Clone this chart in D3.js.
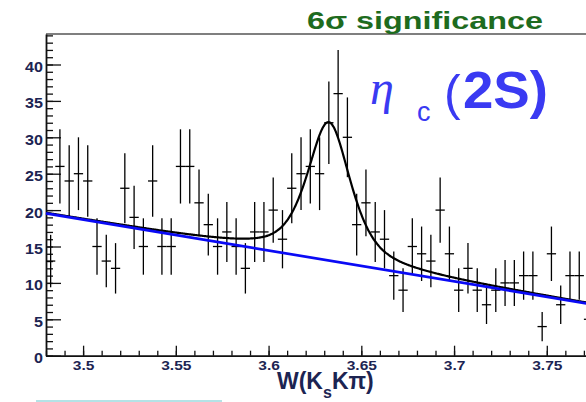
<!DOCTYPE html>
<html>
<head>
<meta charset="utf-8">
<script src="https://cdn.jsdelivr.net/npm/d3@7"></script>
<style>
  html, body { margin: 0; padding: 0; background: #fff; }
  svg { display: block; }
</style>
</head>
<body>
<svg id="chart" width="586" height="402"></svg>
<script>
// W(KsKπ) invariant-mass spectrum, 5 MeV bins (bin centres in GeV)
const massBins = [
  3.4825, 3.4875, 3.4925, 3.4975, 3.5025, 3.5075, 3.5125, 3.5175, 3.5225, 3.5275,
  3.5325, 3.5375, 3.5425, 3.5475, 3.5525, 3.5575, 3.5625, 3.5675, 3.5725, 3.5775,
  3.5825, 3.5875, 3.5925, 3.5975, 3.6025, 3.6075, 3.6125, 3.6175, 3.6225, 3.6275,
  3.6325, 3.6375, 3.6425, 3.6475, 3.6525, 3.6575, 3.6625, 3.6675, 3.6725, 3.6775,
  3.6825, 3.6875, 3.6925, 3.6975, 3.7025, 3.7075, 3.7125, 3.7175, 3.7225, 3.7275,
  3.7325, 3.7375, 3.7425, 3.7475, 3.7525, 3.7575, 3.7625, 3.7675, 3.7725
];
// events per bin
const counts = [
  13, 26, 24, 25, 24, 15, 13, 12, 23, 19,
  15, 24, 15, 15, 26, 26, 21, 18, 15, 17,
  15, 12, 17, 17, 20, 16, 23, 25, 26, 25,
  32, 36, 30, 18, 21, 17, 16, 11,  9, 15,
  14, 13, 20, 14,  9, 12,  9,  7,  9, 10,
  10, 11, 11,  4, 14,  7, 11, 11,  5
];
const binWidth = 0.005;

// fit: linear background (value at 3.48 and at 3.78 GeV) + Voigt-like peak
const bkgEnds = [19.54, 6.82];
const peakParams = [3.6325, 0.028, 19.0, 0.65];   // mass, FWHM, height, Lorentzian fraction

// axis ticks and labels
const xMajorTicks = [3.5, 3.55, 3.6, 3.65, 3.7, 3.75];
const xTickLabels = ["3.5", "3.55", "3.6", "3.65", "3.7", "3.75"];
const yMajorTicks = [0, 5, 10, 15, 20, 25, 30, 35, 40];
const yTickLabels = ["0", "5", "10", "15", "20", "25", "30", "35", "40"];

const svg = d3.select("#chart");
const plotLeft = 46, plotTop = 34, plotBottom = 355.7;

const x = d3.scaleLinear().domain([3.48, 3.78]).range([plotLeft, plotLeft + 0.3 * 1854.8]);
const y = d3.scaleLinear().domain([0, 44.19]).range([plotBottom, plotTop]);

const inkAxis = "#111";
const labelColor = "#1c2452";

// frame top edge
svg.append("line")
  .attr("x1", plotLeft).attr("x2", x.range()[1])
  .attr("y1", plotTop).attr("y2", plotTop)
  .attr("stroke", "#555").attr("stroke-width", 1.6);

// minor ticks (inside)
svg.append("g").attr("transform", `translate(0,${plotBottom})`)
  .call(d3.axisBottom(x).ticks(30).tickSize(-5).tickFormat("").tickSizeOuter(0))
  .call(g => g.select(".domain").remove())
  .call(g => g.selectAll("line").attr("stroke", inkAxis).attr("stroke-width", 1.3));
svg.append("g").attr("transform", `translate(${plotLeft},0)`)
  .call(d3.axisLeft(y).ticks(44).tickSize(-7).tickFormat("").tickSizeOuter(0))
  .call(g => g.select(".domain").remove())
  .call(g => g.selectAll("line").attr("stroke", inkAxis).attr("stroke-width", 1.3));

// major ticks with labels
const xAxis = svg.append("g").attr("transform", `translate(0,${plotBottom})`)
  .call(d3.axisBottom(x).tickValues(xMajorTicks).tickSize(-10).tickSizeOuter(0)
    .tickFormat((d, i) => xTickLabels[i]));
xAxis.select(".domain").attr("stroke", inkAxis).attr("stroke-width", 1.8);
xAxis.selectAll(".tick line").attr("stroke", inkAxis).attr("stroke-width", 1.3);
xAxis.selectAll(".tick text")
  .attr("y", 0).attr("dy", null)
  .attr("transform", "translate(0,14) scale(1.15,1)")
  .attr("fill", labelColor)
  .style("font", "bold 13.5px 'Liberation Sans', Arial, sans-serif");

const yAxis = svg.append("g").attr("transform", `translate(${plotLeft},0)`)
  .call(d3.axisLeft(y).tickValues(yMajorTicks).tickSize(-15).tickSizeOuter(0)
    .tickFormat((d, i) => yTickLabels[i]));
yAxis.select(".domain").attr("stroke", inkAxis).attr("stroke-width", 1.8);
yAxis.selectAll(".tick line").attr("stroke", inkAxis).attr("stroke-width", 1.3);
yAxis.selectAll(".tick text")
  .attr("x", 0).attr("dy", null).attr("y", 0)
  .attr("transform", "translate(-3,7) scale(1.15,1)")
  .attr("text-anchor", "end")
  .attr("fill", labelColor)
  .style("font", "bold 14px 'Liberation Sans', Arial, sans-serif");

// data points with error bars
const pts = svg.append("g").attr("stroke", "#000").attr("stroke-width", 1.3);
massBins.forEach((m, i) => {
  const n = counts[i], err = Math.sqrt(n);
  pts.append("line")
    .attr("x1", x(m)).attr("x2", x(m))
    .attr("y1", y(n - err)).attr("y2", y(n + err));
  pts.append("line")
    .attr("x1", x(m - binWidth / 2)).attr("x2", x(m + binWidth / 2))
    .attr("y1", y(n)).attr("y2", y(n));
});

// fit curves
const bkg = m => bkgEnds[0] + (bkgEnds[1] - bkgEnds[0]) * (m - 3.48) / 0.3;
const peakShape = m => {
  const [m0, fwhm, h, fracL] = peakParams;
  const d = (m - m0) / (fwhm / 2);
  const lor = 1 / (1 + d * d);
  const gau = Math.exp(-Math.LN2 * d * d);
  return h * (fracL * lor + (1 - fracL) * gau);
};
const grid = d3.range(3.48, 3.7801, 0.0005);

svg.append("path")
  .datum(grid)
  .attr("d", d3.line().x(m => x(m)).y(m => y(bkg(m) + peakShape(m))).curve(d3.curveMonotoneX))
  .attr("fill", "none").attr("stroke", "#000").attr("stroke-width", 2.2);

svg.append("path")
  .datum([3.48, 3.78])
  .attr("d", d3.line().x(m => x(m)).y(m => y(bkg(m))))
  .attr("fill", "none").attr("stroke", "#0a0af5").attr("stroke-width", 2.7);

// significance banner
svg.append("text")
  .attr("x", 307).attr("y", 29)
  .attr("textLength", 236).attr("lengthAdjust", "spacingAndGlyphs")
  .attr("fill", "#1e6b1e")
  .style("font", "bold 24px 'Liberation Sans', Arial, sans-serif")
  .text("6σ significance");

// state label
const lab = svg.append("g").attr("fill", "#3a3af2");
lab.append("text")
  .attr("x", 370).attr("y", 104)
  .style("font", "italic 48px 'Liberation Serif', 'DejaVu Serif', serif")
  .text("η");
lab.append("text")
  .attr("x", 417).attr("y", 121)
  .style("font", "27px 'Liberation Sans', Arial, sans-serif")
  .text("c");
lab.append("text")
  .attr("x", 444).attr("y", 110)
  .style("font", "50px 'Liberation Sans', Arial, sans-serif")
  .text("(");
lab.append("text")
  .attr("x", 463).attr("y", 108)
  .attr("textLength", 85).attr("lengthAdjust", "spacingAndGlyphs")
  .style("font", "bold 51px 'Liberation Sans', Arial, sans-serif")
  .text("2S)");

// x-axis title
const xt = svg.append("text")
  .attr("x", 277).attr("y", 389)
  .attr("fill", labelColor)
  .style("font", "bold 23px 'Liberation Sans', Arial, sans-serif");
xt.append("tspan").text("W(K");
xt.append("tspan").attr("dy", 9).style("font-size", "16px").text("s");
xt.append("tspan").attr("dy", -9).text("Kπ)");

// thin rule under the plot
svg.append("line")
  .attr("x1", 36).attr("x2", 222).attr("y1", 401).attr("y2", 401)
  .attr("stroke", "#b4e2e6").attr("stroke-width", 2);
</script>
</body>
</html>
